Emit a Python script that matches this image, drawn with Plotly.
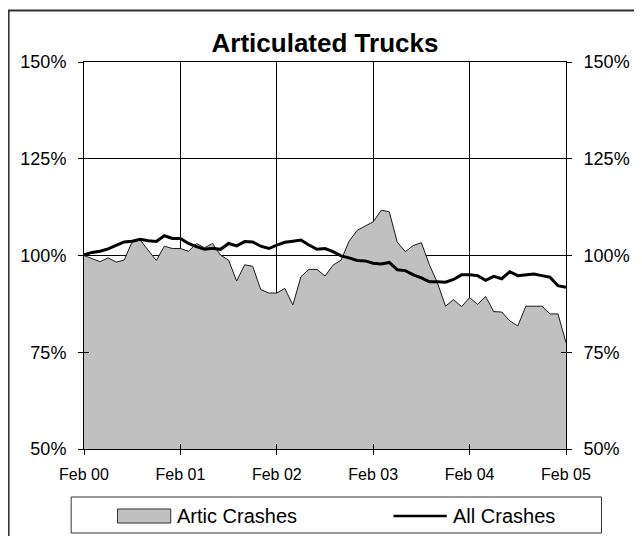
import plotly.graph_objects as go

# ---- data (monthly index, Feb 2000 .. Feb 2005) ----
months = list(range(61))
artic_crashes = [
    100.0, 99.2, 98.4, 99.4, 98.3, 98.8, 103.6, 104.0, 101.4, 98.7,
    102.4, 101.8, 101.8, 101.1, 103.1, 102.0, 103.1, 100.1, 98.8, 93.4,
    97.6, 97.2, 91.2, 90.3, 90.3, 91.5, 87.2, 94.5, 96.4, 96.4,
    94.7, 97.5, 98.8, 103.7, 106.5, 107.6, 108.7, 111.7, 111.3, 103.4,
    101.0, 102.6, 103.3, 97.6, 92.9, 86.9, 88.6, 86.8, 89.1, 87.4,
    89.4, 85.5, 85.4, 83.1, 81.8, 86.9, 86.9, 86.9, 84.9, 84.9,
    77.5,
]
all_crashes = [
    100.2, 100.8, 101.1, 101.7, 102.6, 103.5, 103.7, 104.2, 103.8, 103.6,
    105.1, 104.4, 104.4, 103.1, 102.3, 101.6, 101.9, 101.6, 103.1, 102.5,
    103.6, 103.5, 102.4, 101.8, 102.7, 103.4, 103.7, 104.0, 102.7, 101.6,
    101.8, 101.0, 99.9, 99.4, 98.7, 98.6, 98.0, 97.8, 98.2, 96.3,
    96.1, 95.0, 94.2, 93.2, 93.2, 93.1, 93.8, 95.0, 95.0, 94.8,
    93.6, 94.6, 94.0, 95.8, 94.8, 95.0, 95.2, 94.8, 94.4, 92.2,
    91.8,
]
x_tick_vals = [0, 12, 24, 36, 48, 60]
x_tick_text = ["Feb 00", "Feb 01", "Feb 02", "Feb 03", "Feb 04", "Feb 05"]
y_tick_vals = [50, 75, 100, 125, 150]
y_tick_text = ["50%", "75%", "100%", "125%", "150%"]
series_names = ["Artic Crashes", "All Crashes"]
title_text = "Articulated Trucks"

# ---- layout geometry (pixels; page body has an 8px margin) ----
OFF = 8
W, H = 642 - OFF, 536 - OFF
PLOT_L, PLOT_R, PLOT_T, PLOT_B = 84, 573, 62, 449   # in window pixels
L = PLOT_L - OFF
T = PLOT_T - OFF
R = W - (PLOT_R - OFF)
B = H - (PLOT_B - OFF)
PW, PH = W - L - R, H - T - B
FONT = "Liberation Sans, Arial, sans-serif"


def px(xw):
    return (xw - OFF - L) / PW


def py(yw):
    return (H - B - (yw - OFF)) / PH


fig = go.Figure()
fig.add_trace(go.Scatter(
    x=months, y=artic_crashes, name=series_names[0], mode="lines",
    fill="tozeroy", fillcolor="#C0C0C0",
    line=dict(color="#1a1a1a", width=1), showlegend=False,
))
fig.add_trace(go.Scatter(
    x=months, y=all_crashes, name=series_names[1], mode="lines",
    line=dict(color="black", width=3), showlegend=False,
))
# empty helpers so the secondary/tick axes are drawn
for ya in ["y2", "y3", "y4"]:
    fig.add_trace(go.Scatter(x=[None], y=[None], yaxis=ya, showlegend=False, hoverinfo="skip"))
fig.add_trace(go.Scatter(x=[None], y=[None], xaxis="x2", showlegend=False, hoverinfo="skip"))

common_x = dict(range=[0, 60], tickvals=x_tick_vals, ticktext=x_tick_text,
                tickcolor="black", ticklen=5, tickwidth=1)
common_y = dict(range=[50, 150], tickvals=y_tick_vals, ticktext=y_tick_text,
                tickcolor="black", ticklen=5, tickwidth=1)

fig.update_layout(
    width=W, height=H,
    margin=dict(l=L, r=R, t=T, b=B),
    paper_bgcolor="white", plot_bgcolor="white",
    font=dict(family=FONT, color="black"),
    showlegend=False,
    title=dict(text="<b>" + title_text + "</b>", x=0.5, xref="paper", xanchor="center",
               y=1 - (43 - OFF) / H, yref="container", yanchor="middle",
               font=dict(size=26, family=FONT, color="black")),
    xaxis=dict(**common_x, ticks="outside", showgrid=True, gridcolor="black", gridwidth=1,
               showline=True, linecolor="black", linewidth=1, mirror=True,
               tickfont=dict(size=16), ticklabelstandoff=6, zeroline=False),
    xaxis2=dict(**common_x, overlaying="x", anchor="y", side="bottom", ticks="inside",
                showticklabels=False, showgrid=False, showline=False, zeroline=False),
    yaxis=dict(**common_y, ticks="outside", showgrid=True, gridcolor="black", gridwidth=1,
               showline=True, linecolor="black", linewidth=1,
               tickfont=dict(size=18), ticklabelstandoff=8, zeroline=False),
    yaxis2=dict(**common_y, overlaying="y", side="right", anchor="x", ticks="outside",
                showgrid=False, showline=True, linecolor="black", linewidth=1,
                tickfont=dict(size=18), ticklabelstandoff=8, zeroline=False),
    yaxis3=dict(**common_y, overlaying="y", side="left", anchor="x", ticks="inside",
                showticklabels=False, showgrid=False, showline=False, zeroline=False),
    yaxis4=dict(**common_y, overlaying="y", side="right", anchor="x", ticks="inside",
                showticklabels=False, showgrid=False, showline=False, zeroline=False),
)

shapes = [
    # outer chart-area border (continues past the bottom/right page edges)
    dict(type="rect", xref="paper", yref="paper", x0=px(7.5), x1=px(700), y0=py(600), y1=py(10.5),
         line=dict(color="#333333", width=2), fillcolor="rgba(0,0,0,0)", layer="above"),
    # legend box
    dict(type="rect", xref="paper", yref="paper", x0=px(71), x1=px(609), y0=py(533), y1=py(497),
         line=dict(color="#333333", width=1), fillcolor="white", layer="above"),
    # legend swatch: area
    dict(type="rect", xref="paper", yref="paper", x0=px(118), x1=px(172), y0=py(523), y1=py(509),
         line=dict(color="#333333", width=1), fillcolor="#C0C0C0", layer="above"),
    # legend swatch: line
    dict(type="line", xref="paper", yref="paper", x0=px(398), x1=px(452), y0=py(516), y1=py(516),
         line=dict(color="black", width=2.5), layer="above"),
]
annotations = [
    dict(text=series_names[0], xref="paper", yref="paper", x=px(176), y=py(516),
         xanchor="left", yanchor="middle", showarrow=False, font=dict(size=20, family=FONT)),
    dict(text=series_names[1], xref="paper", yref="paper", x=px(456), y=py(516),
         xanchor="left", yanchor="middle", showarrow=False, font=dict(size=20, family=FONT)),
]
fig.update_layout(shapes=shapes, annotations=annotations)

fig.write_html("out.html")
